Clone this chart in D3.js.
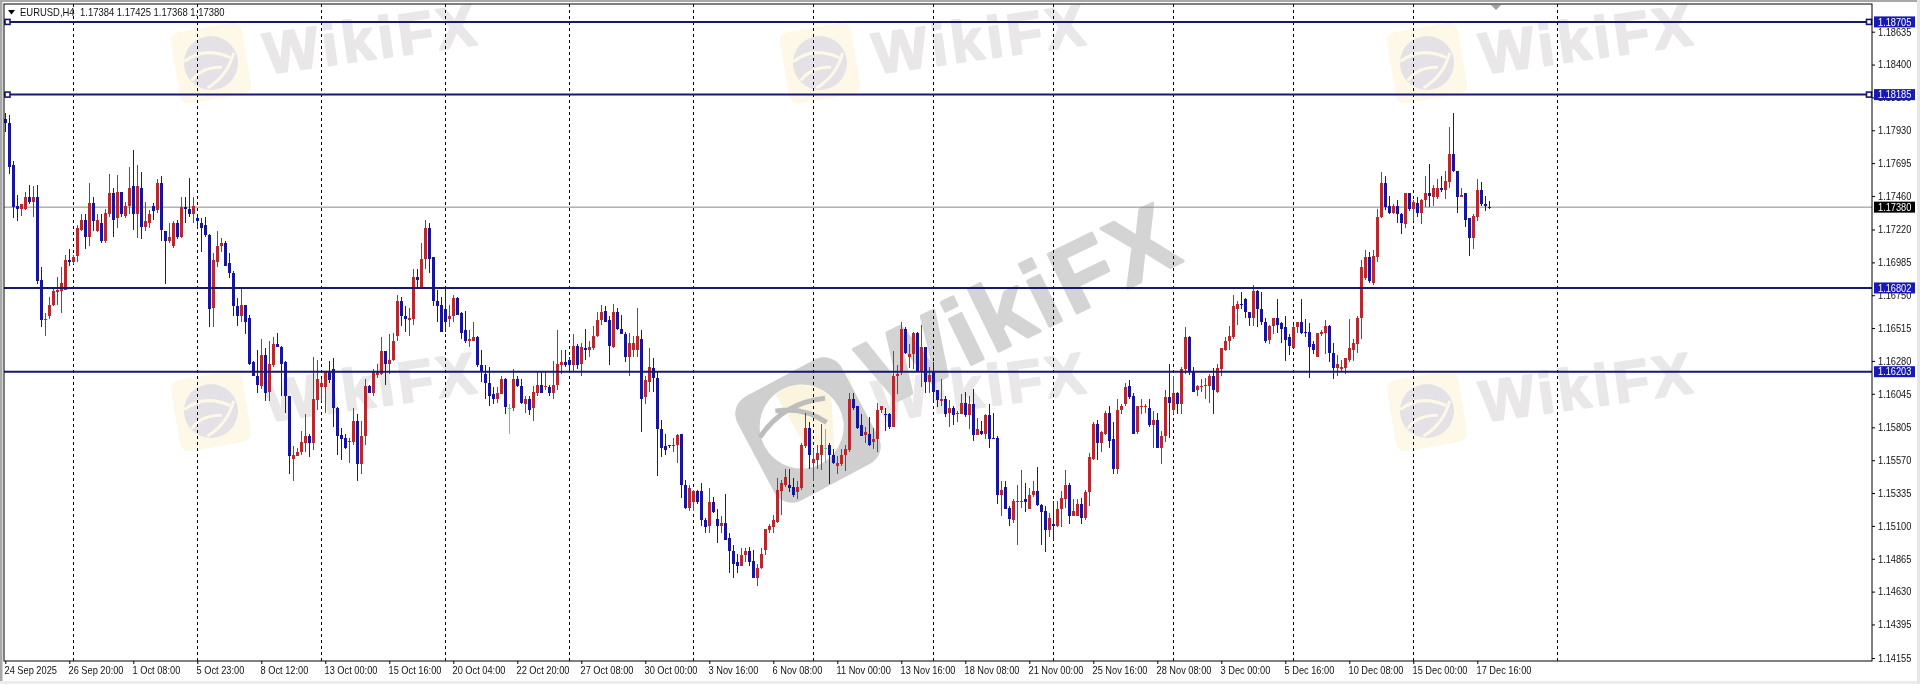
<!DOCTYPE html>
<html><head><meta charset="utf-8">
<script src="https://d3js.org/d3.v7.min.js"></script>
<style>html,body{margin:0;padding:0;background:#fff;overflow:hidden}svg{display:block;filter:blur(.35px)}text{font-family:"Liberation Sans",sans-serif}</style>
</head><body><svg id="c" width="1920" height="684"></svg>
<script>
const symbolTitle="EURUSD,H4";
const ohlcTitle="1.17384 1.17425 1.17368 1.17380";
const priceTicks=[1.18635,1.184,1.18165,1.1793,1.17695,1.1746,1.1722,1.16985,1.1675,1.16515,1.1628,1.16045,1.15805,1.1557,1.15335,1.151,1.14865,1.1463,1.14395,1.14155];
const timeLabels=["24 Sep 2025","26 Sep 20:00","1 Oct 08:00","5 Oct 23:00","8 Oct 12:00","13 Oct 00:00","15 Oct 16:00","20 Oct 04:00","22 Oct 20:00","27 Oct 08:00","30 Oct 00:00","3 Nov 16:00","6 Nov 08:00","11 Nov 00:00","13 Nov 16:00","18 Nov 08:00","21 Nov 00:00","25 Nov 16:00","28 Nov 08:00","3 Dec 00:00","5 Dec 16:00","10 Dec 08:00","15 Dec 00:00","17 Dec 16:00"];
const timeLabelBars=timeLabels.map((_,k)=>k*16);
const separatorBars=[17,48,79,110,141,172,202,232,262,292,322,352,388];
const levels=[1.18705,1.18185,1.16802,1.16203];
const bidPrice=1.1738;
const direction=("bbbbrrbrbb rrrrrrbrrr brbrbrrbrb rrbrbrrbrb brrbrbbrbb bbrrrbbbbr bbbbrbrrbb bbrrrrbrrr rbbbbbrrbr rbrrrbrrrb "+
"brrbrrbbbb brrbbbrrbb bbbrrbgrbb rbrrbrbrrr bbrbrbrrrr bbrbbbrrrb rrbbbbbrrb brrbbbrbbr bbbbrrbbrr rrrrrrbbrr "+
"rbrrrgbbrr rrbbbrbrrr bbrrrbrrbr brbbrbrbrr brbrbrbbbr bbrrrbrrbb brbrrrbrrb rrrbrrbbrr rbbrrrbrbr rbrbrrbbrr "+
"rrbrrrrrrb bbrbbbrrbb bbrrbbbbrr rbbrrrrrrr rbrrrbbrbb rbrbrrbrrb rrbbrbbrrb bb").replace(/ /g,"").split("");
const highs=[1.1805,1.1804,1.1771,1.1747,1.1740,1.1749,1.1754,1.1753,1.1754,1.1695,
1.1662,1.1674,1.1681,1.1688,1.1695,1.1704,1.1708,1.1704,1.1725,1.1733,
1.1733,1.1755,1.1745,1.1733,1.1733,1.1737,1.1762,1.1752,1.1761,1.1749,
1.1742,1.1767,1.1779,1.1768,1.1763,1.1742,1.1736,1.1741,1.1758,1.1760,
1.1721,1.1727,1.1728,1.1729,1.1745,1.1745,1.1759,1.1745,1.1731,1.1730,
1.1731,1.1719,1.1705,1.1721,1.1716,1.1714,1.1705,1.1692,1.1673,1.1680,
1.1668,1.1661,1.1628,1.1636,1.1644,1.1637,1.1642,1.1645,1.1648,1.1639,
1.1628,1.1603,1.1567,1.1566,1.1578,1.1590,1.1576,1.1631,1.1629,1.1615,
1.1621,1.1628,1.1630,1.1595,1.1580,1.1576,1.1573,1.1594,1.1590,1.1585,
1.1615,1.1611,1.1622,1.1626,1.1645,1.1635,1.1647,1.1648,1.1675,1.1674,
1.1667,1.1666,1.1694,1.1694,1.1712,1.1729,1.1727,1.1702,1.1679,1.1674,
1.1680,1.1668,1.1675,1.1674,1.1663,1.1664,1.1650,1.1656,1.1646,1.1636,
1.1625,1.1624,1.1609,1.1609,1.1617,1.1616,1.1597,1.1622,1.1617,1.1615,
1.1603,1.1603,1.1610,1.1620,1.1620,1.1620,1.1611,1.1628,1.1650,1.1636,
1.1636,1.1631,1.1647,1.1640,1.1641,1.1651,1.1642,1.1653,1.1663,1.1668,
1.1667,1.1660,1.1669,1.1666,1.1661,1.1649,1.1648,1.1646,1.1666,1.1650,
1.1617,1.1637,1.1630,1.1620,1.1586,1.1576,1.1568,1.1573,1.1576,1.1576,
1.1543,1.1539,1.1536,1.1536,1.1541,1.1516,1.1537,1.1531,1.1522,1.1517,
1.1533,1.1505,1.1496,1.1490,1.1494,1.1494,1.1495,1.1493,1.1483,1.1494,
1.1508,1.1511,1.1518,1.1544,1.1543,1.1551,1.1551,1.1544,1.1542,1.1569,
1.1591,1.1584,1.1565,1.1568,1.1583,1.1579,1.1569,1.1565,1.1560,1.1565,
1.1568,1.1605,1.1605,1.1596,1.1590,1.1581,1.1588,1.1580,1.1598,1.1596,
1.1594,1.1591,1.1635,1.1625,1.1656,1.1652,1.1640,1.1649,1.1649,1.1654,
1.1638,1.1624,1.1627,1.1607,1.1615,1.1603,1.1600,1.1596,1.1592,1.1604,
1.1606,1.1603,1.1608,1.1587,1.1585,1.1590,1.1597,1.1591,1.1574,1.1542,
1.1542,1.1524,1.1529,1.1539,1.1550,1.1541,1.1537,1.1542,1.1552,1.1526,
1.1524,1.1519,1.1528,1.1528,1.1535,1.1550,1.1541,1.1529,1.1529,1.1530,
1.1536,1.1562,1.1584,1.1586,1.1578,1.1592,1.1596,1.1584,1.1601,1.1597,
1.1612,1.1614,1.1605,1.1596,1.1601,1.1597,1.1601,1.1592,1.1591,1.1578,
1.1607,1.1626,1.1617,1.1606,1.1624,1.1652,1.1646,1.1624,1.1611,1.1615,
1.1616,1.1619,1.1623,1.1626,1.1637,1.1645,1.1653,1.1675,1.1671,1.1677,
1.1673,1.1663,1.1682,1.1679,1.1677,1.1659,1.1654,1.1659,1.1672,1.1656,
1.1660,1.1647,1.1654,1.1656,1.1672,1.1658,1.1655,1.1642,1.1648,1.1650,
1.1657,1.1654,1.1641,1.1632,1.1629,1.1630,1.1658,1.1644,1.1660,1.1700,
1.1707,1.1706,1.1707,1.1737,1.1763,1.1760,1.1746,1.1740,1.1743,1.1734,
1.1748,1.1748,1.1743,1.1745,1.1744,1.1760,1.1769,1.1754,1.1758,1.1760,
1.1764,1.1795,1.1805,1.1764,1.1752,1.1748,1.1730,1.1733,1.1758,1.1756,
1.1746,1.17425];
const bodyHigh=[1.1801,1.1798,1.1768,1.1739,1.1740,1.1745,1.1745,1.1745,1.1745,1.1686,
1.1658,1.1668,1.1678,1.1679,1.1684,1.1700,1.1700,1.1702,1.1723,1.1729,
1.1729,1.1741,1.1741,1.1729,1.1727,1.1734,1.1748,1.1748,1.1749,1.1749,
1.1739,1.1752,1.1753,1.1753,1.1752,1.1728,1.1733,1.1739,1.1755,1.1755,
1.1721,1.1717,1.1727,1.1727,1.1738,1.1738,1.1737,1.1739,1.1730,1.1727,
1.1725,1.1718,1.1700,1.1710,1.1712,1.1712,1.1698,1.1691,1.1667,1.1668,
1.1668,1.1659,1.1627,1.1617,1.1632,1.1632,1.1626,1.1640,1.1640,1.1638,
1.1627,1.1603,1.1561,1.1563,1.1570,1.1574,1.1574,1.1601,1.1615,1.1612,
1.1620,1.1620,1.1622,1.1594,1.1575,1.1573,1.1571,1.1585,1.1585,1.1574,
1.1610,1.1610,1.1620,1.1621,1.1635,1.1635,1.1629,1.1642,1.1671,1.1671,
1.1660,1.1659,1.1688,1.1688,1.1701,1.1723,1.1723,1.1702,1.1671,1.1668,
1.1665,1.1660,1.1673,1.1673,1.1662,1.1650,1.1644,1.1645,1.1645,1.1625,
1.1619,1.1612,1.1604,1.1605,1.1615,1.1615,1.1594,1.1615,1.1615,1.1610,
1.1601,1.1601,1.1606,1.1611,1.1611,1.1610,1.1609,1.1611,1.1626,1.1627,
1.1627,1.1629,1.1639,1.1639,1.1638,1.1637,1.1638,1.1646,1.1657,1.1663,
1.1664,1.1657,1.1663,1.1663,1.1651,1.1647,1.1641,1.1641,1.1646,1.1644,
1.1614,1.1624,1.1623,1.1616,1.1579,1.1567,1.1568,1.1568,1.1575,1.1576,
1.1539,1.1537,1.1535,1.1535,1.1535,1.1514,1.1527,1.1527,1.1515,1.1512,
1.1512,1.1501,1.1492,1.1484,1.1489,1.1492,1.1492,1.1485,1.1480,1.1490,
1.1508,1.1510,1.1514,1.1536,1.1541,1.1545,1.1539,1.1538,1.1538,1.1568,
1.1580,1.1580,1.1558,1.1562,1.1568,1.1566,1.1568,1.1561,1.1555,1.1561,
1.1565,1.1601,1.1601,1.1596,1.1582,1.1577,1.1576,1.1572,1.1593,1.1596,
1.1590,1.1590,1.1617,1.1619,1.1651,1.1651,1.1633,1.1648,1.1648,1.1638,
1.1638,1.1618,1.1620,1.1607,1.1601,1.1601,1.1594,1.1594,1.1591,1.1598,
1.1598,1.1597,1.1597,1.1579,1.1578,1.1589,1.1589,1.1573,1.1573,1.1536,
1.1538,1.1523,1.1528,1.1528,1.1528,1.1529,1.1532,1.1535,1.1535,1.1525,
1.1521,1.1516,1.1511,1.1522,1.1530,1.1539,1.1539,1.1521,1.1526,1.1526,
1.1534,1.1559,1.1583,1.1583,1.1577,1.1591,1.1591,1.1572,1.1593,1.1596,
1.1609,1.1610,1.1603,1.1596,1.1596,1.1596,1.1594,1.1586,1.1586,1.1574,
1.1602,1.1602,1.1605,1.1605,1.1622,1.1645,1.1645,1.1621,1.1610,1.1610,
1.1611,1.1617,1.1617,1.1623,1.1637,1.1642,1.1646,1.1667,1.1669,1.1669,
1.1672,1.1663,1.1678,1.1678,1.1665,1.1656,1.1653,1.1659,1.1659,1.1655,
1.1652,1.1645,1.1652,1.1656,1.1656,1.1649,1.1649,1.1640,1.1648,1.1649,
1.1653,1.1653,1.1634,1.1626,1.1624,1.1630,1.1637,1.1641,1.1659,1.1695,
1.1702,1.1702,1.1703,1.1731,1.1755,1.1755,1.1739,1.1739,1.1739,1.1733,
1.1748,1.1748,1.1742,1.1741,1.1743,1.1748,1.1748,1.1752,1.1752,1.1752,
1.1757,1.1776,1.1776,1.1764,1.1747,1.1748,1.1730,1.1732,1.1750,1.1750,
1.1740,1.17384];
const bodyLow=[1.1798,1.1767,1.1738,1.1737,1.1737,1.1737,1.1742,1.1742,1.1685,1.1657,
1.1657,1.1660,1.1668,1.1677,1.1678,1.1679,1.1699,1.1699,1.1703,1.1722,
1.1717,1.1717,1.1728,1.1721,1.1714,1.1714,1.1733,1.1729,1.1730,1.1733,
1.1732,1.1739,1.1733,1.1733,1.1724,1.1724,1.1727,1.1735,1.1736,1.1722,
1.1714,1.1714,1.1710,1.1717,1.1717,1.1737,1.1733,1.1733,1.1728,1.1723,
1.1718,1.1665,1.1666,1.1699,1.1710,1.1696,1.1691,1.1667,1.1660,1.1660,
1.1656,1.1626,1.1617,1.1611,1.1610,1.1605,1.1606,1.1625,1.1638,1.1626,
1.1603,1.1560,1.1558,1.1560,1.1563,1.1569,1.1569,1.1569,1.1600,1.1609,
1.1609,1.1614,1.1594,1.1574,1.1572,1.1566,1.1570,1.1570,1.1554,1.1554,
1.1574,1.1605,1.1605,1.1618,1.1619,1.1626,1.1626,1.1629,1.1646,1.1660,
1.1658,1.1657,1.1658,1.1686,1.1681,1.1701,1.1701,1.1671,1.1667,1.1649,
1.1656,1.1658,1.1660,1.1661,1.1648,1.1642,1.1642,1.1642,1.1625,1.1620,
1.1612,1.1603,1.1601,1.1601,1.1604,1.1595,1.1594,1.1594,1.1610,1.1598,
1.1597,1.1593,1.1594,1.1605,1.1605,1.1609,1.1605,1.1605,1.1611,1.1625,
1.1625,1.1625,1.1625,1.1625,1.1626,1.1636,1.1636,1.1637,1.1646,1.1657,
1.1656,1.1639,1.1638,1.1651,1.1647,1.1631,1.1631,1.1636,1.1636,1.1601,
1.1602,1.1613,1.1616,1.1579,1.1566,1.1564,1.1567,1.1567,1.1568,1.1539,
1.1523,1.1523,1.1527,1.1527,1.1514,1.1509,1.1510,1.1520,1.1510,1.1510,
1.1500,1.1492,1.1483,1.1481,1.1481,1.1489,1.1484,1.1473,1.1473,1.1480,
1.1493,1.1507,1.1509,1.1513,1.1535,1.1539,1.1537,1.1532,1.1534,1.1537,
1.1567,1.1561,1.1555,1.1557,1.1561,1.1566,1.1561,1.1555,1.1553,1.1554,
1.1561,1.1564,1.1594,1.1580,1.1574,1.1575,1.1568,1.1570,1.1572,1.1593,
1.1589,1.1581,1.1581,1.1617,1.1620,1.1634,1.1631,1.1633,1.1621,1.1621,
1.1613,1.1613,1.1606,1.1600,1.1599,1.1590,1.1591,1.1589,1.1590,1.1590,
1.1589,1.1589,1.1575,1.1575,1.1576,1.1576,1.1572,1.1572,1.1532,1.1532,
1.1522,1.1515,1.1514,1.1527,1.1527,1.1527,1.1522,1.1532,1.1525,1.1520,
1.1507,1.1507,1.1510,1.1510,1.1522,1.1529,1.1517,1.1517,1.1517,1.1516,
1.1516,1.1534,1.1558,1.1569,1.1569,1.1576,1.1571,1.1551,1.1551,1.1593,
1.1597,1.1602,1.1576,1.1577,1.1595,1.1595,1.1582,1.1582,1.1566,1.1566,
1.1574,1.1598,1.1593,1.1597,1.1597,1.1622,1.1621,1.1606,1.1607,1.1609,
1.1610,1.1610,1.1607,1.1606,1.1622,1.1636,1.1642,1.1645,1.1665,1.1668,
1.1663,1.1659,1.1659,1.1665,1.1656,1.1642,1.1643,1.1653,1.1654,1.1651,
1.1643,1.1639,1.1637,1.1652,1.1648,1.1648,1.1638,1.1636,1.1631,1.1647,
1.1648,1.1634,1.1623,1.1623,1.1622,1.1623,1.1629,1.1636,1.1640,1.1659,
1.1687,1.1685,1.1684,1.1702,1.1731,1.1738,1.1734,1.1734,1.1733,1.1727,
1.1726,1.1737,1.1737,1.1734,1.1734,1.1743,1.1746,1.1745,1.1745,1.1750,
1.1750,1.1756,1.1764,1.1745,1.1745,1.1729,1.1716,1.1716,1.1731,1.1740,
1.1739,1.17380];
const lows=[1.1792,1.1762,1.1730,1.1728,1.1732,1.1736,1.1740,1.1731,1.1683,1.1652,
1.1646,1.1658,1.1667,1.1668,1.1662,1.1679,1.1696,1.1697,1.1699,1.1721,
1.1708,1.1710,1.1721,1.1720,1.1712,1.1712,1.1731,1.1717,1.1723,1.1731,
1.1730,1.1733,1.1722,1.1716,1.1715,1.1721,1.1723,1.1729,1.1734,1.1714,
1.1683,1.1712,1.1709,1.1715,1.1716,1.1727,1.1731,1.1727,1.1724,1.1706,
1.1717,1.1652,1.1652,1.1695,1.1706,1.1696,1.1687,1.1660,1.1653,1.1656,
1.1647,1.1625,1.1617,1.1605,1.1608,1.1599,1.1599,1.1624,1.1638,1.1603,
1.1591,1.1547,1.1542,1.1560,1.1561,1.1563,1.1559,1.1564,1.1593,1.1599,
1.1591,1.1612,1.1581,1.1561,1.1557,1.1565,1.1555,1.1568,1.1542,1.1547,
1.1568,1.1605,1.1603,1.1616,1.1618,1.1611,1.1619,1.1628,1.1642,1.1653,
1.1649,1.1646,1.1654,1.1681,1.1680,1.1694,1.1691,1.1667,1.1656,1.1649,
1.1649,1.1652,1.1656,1.1661,1.1644,1.1641,1.1638,1.1642,1.1624,1.1613,
1.1601,1.1596,1.1597,1.1598,1.1604,1.1590,1.1576,1.1592,1.1609,1.1597,
1.1591,1.1589,1.1585,1.1603,1.1605,1.1607,1.1603,1.1601,1.1607,1.1619,
1.1624,1.1620,1.1620,1.1622,1.1617,1.1629,1.1631,1.1636,1.1645,1.1654,
1.1656,1.1625,1.1637,1.1650,1.1647,1.1627,1.1617,1.1631,1.1631,1.1577,
1.1597,1.1606,1.1606,1.1546,1.1559,1.1561,1.1566,1.1563,1.1555,1.1530,
1.1522,1.1521,1.1521,1.1526,1.1510,1.1505,1.1505,1.1519,1.1498,1.1505,
1.1500,1.1476,1.1473,1.1476,1.1481,1.1484,1.1481,1.1473,1.1467,1.1479,
1.1489,1.1505,1.1505,1.1512,1.1518,1.1538,1.1534,1.1531,1.1529,1.1536,
1.1566,1.1551,1.1542,1.1551,1.1550,1.1555,1.1540,1.1554,1.1547,1.1553,
1.1549,1.1563,1.1593,1.1579,1.1574,1.1569,1.1567,1.1565,1.1563,1.1591,
1.1578,1.1579,1.1581,1.1604,1.1618,1.1633,1.1623,1.1622,1.1621,1.1609,
1.1605,1.1605,1.1600,1.1595,1.1596,1.1588,1.1581,1.1582,1.1584,1.1590,
1.1588,1.1579,1.1571,1.1575,1.1575,1.1572,1.1566,1.1572,1.1526,1.1517,
1.1522,1.1510,1.1512,1.1496,1.1523,1.1520,1.1522,1.1531,1.1524,1.1496,
1.1491,1.1502,1.1500,1.1509,1.1509,1.1523,1.1511,1.1517,1.1517,1.1511,
1.1514,1.1524,1.1557,1.1557,1.1563,1.1575,1.1566,1.1547,1.1547,1.1590,
1.1596,1.1601,1.1576,1.1576,1.1590,1.1591,1.1581,1.1566,1.1566,1.1554,
1.1570,1.1573,1.1590,1.1590,1.1590,1.1619,1.1618,1.1606,1.1603,1.1606,
1.1601,1.1598,1.1590,1.1605,1.1617,1.1635,1.1636,1.1644,1.1654,1.1665,
1.1659,1.1653,1.1653,1.1652,1.1654,1.1641,1.1640,1.1647,1.1648,1.1641,
1.1628,1.1632,1.1637,1.1648,1.1647,1.1645,1.1616,1.1633,1.1631,1.1646,
1.1633,1.1627,1.1615,1.1617,1.1621,1.1619,1.1627,1.1628,1.1634,1.1644,
1.1686,1.1684,1.1682,1.1699,1.1730,1.1736,1.1733,1.1733,1.1727,1.1719,
1.1723,1.1735,1.1728,1.1731,1.1726,1.1738,1.1738,1.1739,1.1744,1.1749,
1.1744,1.1752,1.1763,1.1734,1.1745,1.1724,1.1703,1.1708,1.1728,1.1739,
1.1735,1.17368];

const BLUE="#15159e",RED="#b42a2e",NAVY="#18186e",GREEN="#5fd07a";
const plot={left:4,right:1872,top:4,bottom:661};
const svg=d3.select("#c");
const x=d3.scaleLinear().domain([0,100]).range([5.3,405.3]);
const y=d3.scaleLinear().domain([1.14155,1.18635]).range([658,31.7]);

// window chrome
svg.append("rect").attr("width",1920).attr("height",684).attr("fill","#fff");
svg.append("rect").attr("x",0).attr("y",0).attr("width",1920).attr("height",2).attr("fill","#a8a8a8");
svg.append("rect").attr("x",0).attr("y",0).attr("width",2.5).attr("height",684).attr("fill","#a8a8a8");
svg.append("rect").attr("x",0).attr("y",681).attr("width",1920).attr("height",3).attr("fill","#ececec");
svg.append("rect").attr("x",1917).attr("y",0).attr("width",3).attr("height",684).attr("fill","#e6e6e6");

// watermarks
function smallMark(g,ox,oy){
  const m=g.append("g").attr("transform",`translate(${ox},${oy}) rotate(-10)`);
  m.append("rect").attr("x",-36).attr("y",-36).attr("width",72).attr("height",72).attr("rx",9).attr("fill","#fdf8e8");
  m.append("circle").attr("r",27).attr("fill","#e4e2e6");
  m.append("path").attr("d","M-26,-6 Q-4,-18 20,-2").attr("fill","none").attr("stroke","#fdf8e8").attr("stroke-width",3);
  m.append("path").attr("d","M-8,24 Q14,16 24,-6 M-22,14 Q-10,2 10,6").attr("fill","none").attr("stroke","#fdf8e8").attr("stroke-width",3);
}
function smallWord(g,ox,oy){
  g.append("text").text("WikiFX").attr("transform",`translate(${ox},${oy}) rotate(-8)`)
   .attr("font-family","Open Sans").attr("font-weight",700).attr("font-size",58)
   .attr("letter-spacing",4).attr("fill","#e9e7e7").attr("stroke","#e9e7e7").attr("stroke-width",2).attr("stroke-linejoin","round");
}
const wm=svg.append("g");
[[0,0],[609,0],[1216,0],[0,348],[609,348],[1216,348]].forEach(([dx,dy])=>{
  smallMark(wm,211+dx,63+dy);
  smallWord(wm,267+dx,74+dy);
});
const big=wm.append("g").attr("transform","translate(808,430) rotate(-28)");
big.append("rect").attr("x",-59).attr("y",-59).attr("width",118).attr("height",118).attr("rx",20).attr("fill","#cfcfcf");
big.append("circle").attr("cx",-4).attr("cy",-6).attr("r",42).attr("fill","#fff");
big.append("path").attr("d","M-12,-47 A42,42 0 0 1 36,-18 L14,30 L-10,14 Z").attr("fill","#fbf5df");
big.append("path").attr("d","M-46,-16 Q-10,-36 30,-20 M-20,-32 Q6,-24 20,2").attr("fill","none").attr("stroke","#bdbdbd").attr("stroke-width",5);
wm.append("text").text("WikiFX").attr("transform","translate(882,408) rotate(-26)")
  .attr("font-family","Open Sans").attr("font-weight",700).attr("font-size",95).attr("letter-spacing",4)
  .attr("fill","#d4d4d4").attr("stroke","#d4d4d4").attr("stroke-width",3).attr("stroke-linejoin","round");

// period separators
svg.append("g").selectAll("line").data(separatorBars).join("line")
  .attr("x1",d=>Math.round(x(d))+.5).attr("x2",d=>Math.round(x(d))+.5)
  .attr("y1",plot.top).attr("y2",plot.bottom)
  .attr("stroke","#000").attr("stroke-width",1).attr("stroke-dasharray","3,3");

// bid line
svg.append("line").attr("x1",plot.left).attr("x2",plot.right).attr("y1",y(bidPrice)).attr("y2",y(bidPrice))
  .attr("stroke","#8a8a8a").attr("stroke-width",1);

// candles
const candles=d3.range(highs.length);
const colorOf=i=>direction[i]==="r"?RED:direction[i]==="g"?GREEN:BLUE;
const cg=svg.append("g").attr("shape-rendering","crispEdges");
cg.selectAll("rect.w").data(candles).join("rect").attr("class","w")
  .attr("x",i=>Math.round(x(i))).attr("width",1)
  .attr("y",i=>y(highs[i])).attr("height",i=>y(lows[i])-y(highs[i]))
  .attr("fill",colorOf);
cg.selectAll("rect.b").data(candles).join("rect").attr("class","b")
  .attr("x",i=>Math.round(x(i))-1).attr("width",3)
  .attr("y",i=>y(bodyHigh[i])).attr("height",i=>Math.max(1,y(bodyLow[i])-y(bodyHigh[i])))
  .attr("fill",colorOf);

// horizontal levels
svg.append("g").selectAll("line").data(levels).join("line")
  .attr("x1",plot.left).attr("x2",plot.right).attr("y1",d=>y(d)).attr("y2",d=>y(d))
  .attr("stroke",NAVY).attr("stroke-width",2);
[levels[0],levels[1]].forEach(l=>{
  [7.5,1869].forEach(px=>{
    svg.append("rect").attr("x",px-2.5).attr("y",y(l)-2.5).attr("width",5).attr("height",5)
      .attr("fill","#fff").attr("stroke",NAVY).attr("stroke-width",1.6);
  });
});

// frame
svg.append("rect").attr("x",plot.left).attr("y",plot.top).attr("width",plot.right-plot.left).attr("height",plot.bottom-plot.top)
  .attr("fill","none").attr("stroke","#000").attr("stroke-width",1);

// narrow UI text
function squeeze(sel,f=.88){sel.attr("font-size",10.5).attr("font-family","Liberation Sans").attr("fill","#111")
  .each(function(){const L=this.getComputedTextLength();d3.select(this).attr("textLength",L*f).attr("lengthAdjust","spacingAndGlyphs");});}

// axes
const yAxis=d3.axisRight(y).tickValues(priceTicks).tickSize(3).tickPadding(3).tickFormat(d3.format(".5f"));
const ya=svg.append("g").attr("transform",`translate(${plot.right},0)`).call(yAxis);
ya.select(".domain").remove();ya.selectAll("line").attr("stroke","#000");
squeeze(ya.selectAll("text"));
const xAxis=d3.axisBottom(x).tickValues(timeLabelBars).tickSize(3).tickPadding(3).tickFormat((d,k)=>timeLabels[k]);
const xa=svg.append("g").attr("transform",`translate(0,${plot.bottom})`).call(xAxis);
xa.select(".domain").remove();xa.selectAll("line").attr("stroke","#000");
xa.selectAll("text").attr("text-anchor","start").attr("x",-1.3);
squeeze(xa.selectAll("text"));

// price tags
function tag(p,fill){
  svg.append("rect").attr("x",1874).attr("y",y(p)-5.5).attr("width",41).attr("height",11).attr("fill",fill);
  const t=svg.append("text").attr("x",1878).attr("y",y(p)+3.8).text(d3.format(".5f")(p));
  squeeze(t);t.attr("fill","#fff");
}
levels.forEach(l=>tag(l,"#1818b4"));
tag(bidPrice,"#000");

// title
svg.append("path").attr("d","M8,10 L15,10 L11.5,14.5 Z").attr("fill","#000");
const t1=svg.append("text").attr("x",20).attr("y",16).text(symbolTitle);squeeze(t1,.9);
const t2=svg.append("text").attr("x",80).attr("y",16).text(ohlcTitle);squeeze(t2,.9);

// shift marker
svg.append("path").attr("d","M1491,5 L1501,5 L1496,10 Z").attr("fill","#a0a0a0");
</script></body></html>
